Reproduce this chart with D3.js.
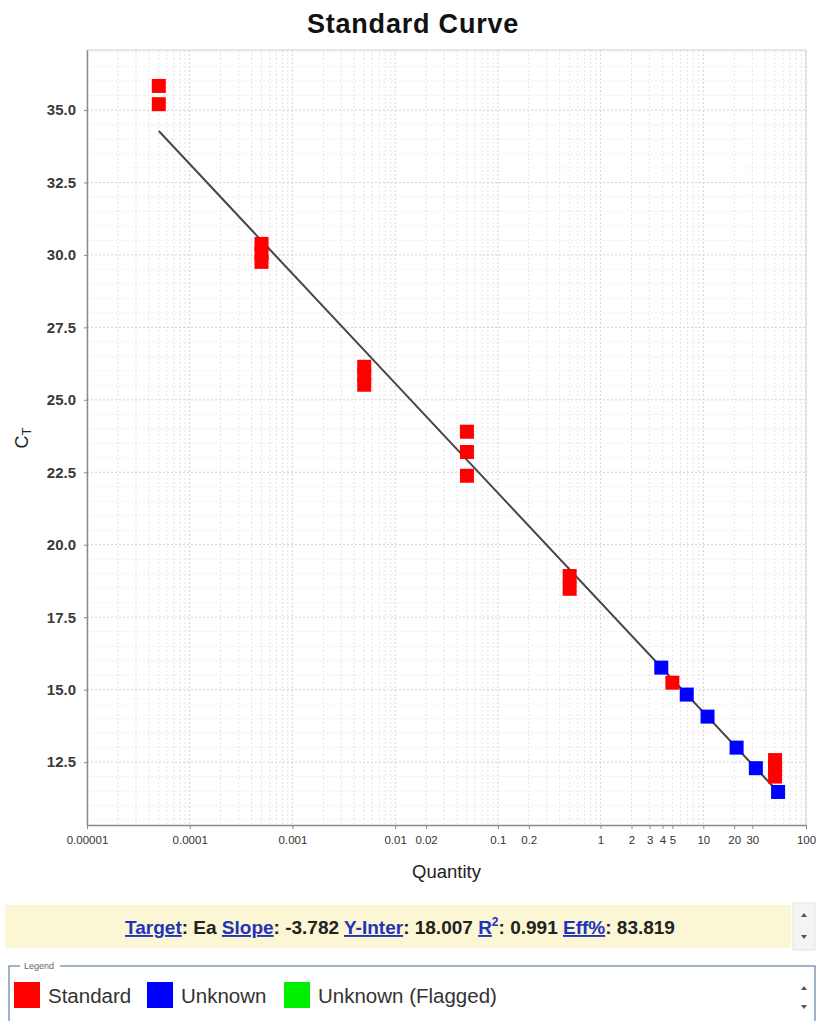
<!DOCTYPE html>
<html>
<head>
<meta charset="utf-8">
<script src="https://cdn.jsdelivr.net/npm/d3@7"></script>
<style>
  html, body { margin: 0; padding: 0; background: #ffffff; }
  svg { display: block; }
</style>
</head>
<body>
<svg id="chart" width="819" height="1021"></svg>
<script>
// Standard dilution series (quantity, Ct)
const standardQty = [5e-5, 5e-5, 5e-4, 5e-4, 5e-4, 5e-3, 5e-3, 5e-3, 5e-2, 5e-2, 5e-2, 0.5, 0.5, 5, 50, 50, 50];
const standardCt  = [35.83, 35.2, 30.38, 30.05, 29.76, 26.14, 25.85, 25.52, 23.9, 23.2, 22.38, 18.92, 18.48, 15.24, 12.57, 12.3, 12.0];

// Unknown samples (quantity, Ct)
const unknownQty = [3.9, 6.9, 11.0, 21.1, 32.5, 53.5];
const unknownCt  = [15.76, 14.83, 14.07, 13.0, 12.29, 11.47];

// Fit statistics
const target = "Ea";
const slope = -3.782;
const yInter = 18.007;
const r2 = 0.991;
const eff = 83.819;

// Axis ticks
const xTickValues = [0.00001, 0.0001, 0.001, 0.01, 0.02, 0.1, 0.2, 1, 2, 3, 4, 5, 10, 20, 30, 100];
const xTickLabels = ["0.00001", "0.0001", "0.001", "0.01", "0.02", "0.1", "0.2", "1", "2", "3", "4", "5", "10", "20", "30", "100"];
const yTickValues = [12.5, 15.0, 17.5, 20.0, 22.5, 25.0, 27.5, 30.0, 32.5, 35.0];

// Legend entries
const legendLabels = ["Standard", "Unknown", "Unknown (Flagged)"];
const legendColors = ["#ff0000", "#0000ff", "#00ee00"];

const svg = d3.select("#chart");
const sans = "'Liberation Sans', Arial, Helvetica, sans-serif";

const plot = { left: 87, right: 806, top: 50, bottom: 825 };

const x = d3.scaleLog().domain([1e-5, 100]).range([plot.left, plot.right]);
const y = d3.scaleLinear().domain([10.33, 37.07]).range([plot.bottom, plot.top]);

// Title
svg.append("text")
  .attr("x", 413).attr("y", 33)
  .attr("text-anchor", "middle")
  .attr("font-family", sans)
  .attr("font-weight", "bold")
  .attr("font-size", 27)
  .attr("letter-spacing", 0.8)
  .attr("fill", "#111")
  .text("Standard Curve");

// Grid: minor lines at 1..9 within each decade, y every 0.5
const g = svg.append("g");
const xGrid = [];
for (let e = -5; e < 2; e++) for (let m = 1; m <= 9; m++) xGrid.push(m * Math.pow(10, e));
xGrid.push(100);
g.selectAll("line.xg").data(xGrid).join("line")
  .attr("x1", d => x(d)).attr("x2", d => x(d))
  .attr("y1", plot.top).attr("y2", plot.bottom)
  .attr("stroke", d => (Math.abs(Math.log10(d) - Math.round(Math.log10(d))) < 1e-9) ? "#d4d4d4" : "#e4e4e4")
  .attr("stroke-width", 1)
  .attr("stroke-dasharray", "2,2");

const yGrid = d3.range(10.5, 37.01, 0.5);
g.selectAll("line.yg").data(yGrid).join("line")
  .attr("x1", plot.left).attr("x2", plot.right)
  .attr("y1", d => y(d)).attr("y2", d => y(d))
  .attr("stroke", d => (Math.abs(d / 2.5 - Math.round(d / 2.5)) < 1e-9) ? "#d2d2d2" : "#eeeeee")
  .attr("stroke-width", 1)
  .attr("stroke-dasharray", "2,2");

// Plot frame (top/right light)
svg.append("line").attr("x1", plot.left).attr("x2", plot.right).attr("y1", plot.top).attr("y2", plot.top)
  .attr("stroke", "#cfcfcf");
svg.append("line").attr("x1", plot.right).attr("x2", plot.right).attr("y1", plot.top).attr("y2", plot.bottom)
  .attr("stroke", "#cfcfcf");

// Axes
const xAxis = d3.axisBottom(x)
  .tickValues(xTickValues)
  .tickFormat((d, i) => xTickLabels[i])
  .tickSizeInner(4).tickSizeOuter(0).tickPadding(7);
const xg = svg.append("g").attr("transform", `translate(0,${plot.bottom})`).call(xAxis);
xg.select(".domain").attr("stroke", "#8a8a8a").attr("stroke-width", 1.5);
xg.selectAll(".tick line").attr("stroke", "#8a8a8a");
xg.selectAll(".tick text").attr("font-family", sans).attr("font-size", 11.5).attr("fill", "#333");

const yAxis = d3.axisLeft(y)
  .tickValues(yTickValues)
  .tickFormat(d3.format(".1f"))
  .tickSizeInner(3).tickSizeOuter(0).tickPadding(8);
const yg = svg.append("g").attr("transform", `translate(${plot.left},0)`).call(yAxis);
yg.select(".domain").attr("stroke", "#8a8a8a").attr("stroke-width", 1.5);
yg.selectAll(".tick line").attr("stroke", "#8a8a8a");
yg.selectAll(".tick text").attr("font-family", sans).attr("font-size", 15).attr("font-weight", "bold").attr("fill", "#3a3a3a");

// Axis titles
svg.append("text")
  .attr("x", (plot.left + plot.right) / 2).attr("y", 878)
  .attr("text-anchor", "middle")
  .attr("font-family", sans).attr("font-size", 18.5).attr("fill", "#222")
  .text("Quantity");

const yt = svg.append("text")
  .attr("transform", "translate(28,438) rotate(-90)")
  .attr("text-anchor", "middle")
  .attr("font-family", sans).attr("font-size", 18).attr("fill", "#222");
yt.append("tspan").text("C");
yt.append("tspan").attr("font-size", 13).attr("dy", 3).text("T");

// Regression line over the standard range
const qMin = d3.min(standardQty), qMax = d3.max(standardQty);
const fit = q => slope * Math.log10(q) + yInter;
svg.append("line")
  .attr("x1", x(qMin)).attr("y1", y(fit(qMin)))
  .attr("x2", x(qMax)).attr("y2", y(fit(qMax)))
  .attr("stroke", "#454545").attr("stroke-width", 2);

// Points
const sz = 14;
const standards = standardQty.map((q, i) => ({ q, ct: standardCt[i] }));
const unknowns = unknownQty.map((q, i) => ({ q, ct: unknownCt[i] }));
svg.append("g").selectAll("rect").data(standards).join("rect")
  .attr("x", d => x(d.q) - sz / 2).attr("y", d => y(d.ct) - sz / 2)
  .attr("width", sz).attr("height", sz)
  .attr("fill", legendColors[0]);
svg.append("g").selectAll("rect").data(unknowns).join("rect")
  .attr("x", d => x(d.q) - sz / 2).attr("y", d => y(d.ct) - sz / 2)
  .attr("width", sz).attr("height", sz)
  .attr("fill", legendColors[1]);

// Scroll arrows helper
function arrows(cx, cy1, cy2) {
  svg.append("path").attr("d", `M${cx - 3},${cy1 + 2} L${cx},${cy1 - 2} L${cx + 3},${cy1 + 2} Z`).attr("fill", "#555");
  svg.append("path").attr("d", `M${cx - 3},${cy2 - 2} L${cx},${cy2 + 2} L${cx + 3},${cy2 - 2} Z`).attr("fill", "#555");
}

// Fit statistics bar
svg.append("rect").attr("x", 5).attr("y", 905).attr("width", 786).attr("height", 43).attr("fill", "#fbf6d3");
svg.append("rect").attr("x", 793).attr("y", 903).attr("width", 22).attr("height", 47).attr("fill", "#f4f4f4").attr("stroke", "#e2e2e2");
arrows(804, 915, 937);

const stats = [
  { t: "Target", link: true }, { t: ": " + target + " " },
  { t: "Slope", link: true }, { t: ": " + slope.toFixed(3) + " " },
  { t: "Y-Inter", link: true }, { t: ": " + yInter.toFixed(3) + " " },
  { t: "R", link: true, sup: "2" }, { t: ": " + r2.toFixed(3) + " ", after: true },
  { t: "Eff%", link: true }, { t: ": " + eff.toFixed(3) }
];
const st = svg.append("text")
  .attr("x", 400).attr("y", 934)
  .attr("text-anchor", "middle")
  .attr("font-family", sans).attr("font-size", 19).attr("font-weight", "bold")
  .attr("fill", "#222");
stats.forEach(s => {
  const sp = st.append("tspan").text(s.t);
  if (s.link) sp.attr("fill", "#2233bb").attr("text-decoration", "underline");
  if (s.after) sp.attr("dy", 8);
  if (s.sup) {
    st.append("tspan").attr("dy", -8).attr("font-size", 12).attr("fill", "#2233bb").text(s.sup);
  }
});

// Legend box
svg.append("path")
  .attr("d", "M20,966 L9,966 L9,1030 L815,1030 L815,966 L60,966")
  .attr("fill", "none").attr("stroke", "#7f9bb5").attr("stroke-width", 1.5);
svg.append("text").attr("x", 24).attr("y", 969)
  .attr("font-family", sans).attr("font-size", 9).attr("fill", "#666").text("Legend");

const lg = svg.append("g").selectAll("g").data(legendLabels).join("g");
const legendX = [14, 147, 284];
lg.append("rect")
  .attr("x", (d, i) => legendX[i]).attr("y", 982)
  .attr("width", 26).attr("height", 26)
  .attr("fill", (d, i) => legendColors[i]);
lg.append("text")
  .attr("x", (d, i) => legendX[i] + 34).attr("y", 1003)
  .attr("font-family", sans).attr("font-size", 20.5).attr("fill", "#333")
  .text(d => d);
arrows(804, 988, 1007);
</script>
</body>
</html>
